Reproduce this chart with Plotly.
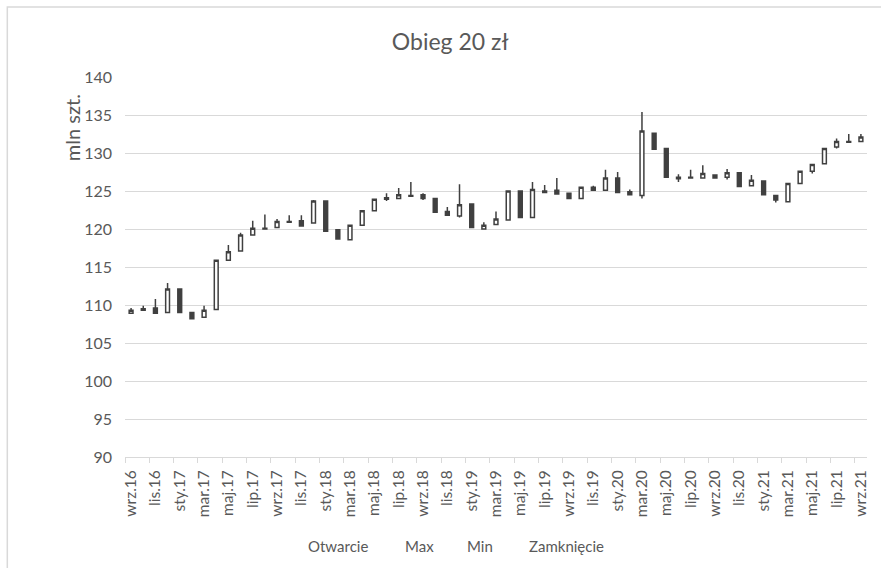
import plotly.graph_objects as go

months = ["wrz.16", "paź.16", "lis.16", "gru.16", "sty.17", "lut.17", "mar.17", "kwi.17", "maj.17", "cze.17",
          "lip.17", "sie.17", "wrz.17", "paź.17", "lis.17", "gru.17", "sty.18", "lut.18", "mar.18", "kwi.18",
          "maj.18", "cze.18", "lip.18", "sie.18", "wrz.18", "paź.18", "lis.18", "gru.18", "sty.19", "lut.19",
          "mar.19", "kwi.19", "maj.19", "cze.19", "lip.19", "sie.19", "wrz.19", "paź.19", "lis.19", "gru.19",
          "sty.20", "lut.20", "mar.20", "kwi.20", "maj.20", "cze.20", "lip.20", "sie.20", "wrz.20", "paź.20",
          "lis.20", "gru.20", "sty.21", "lut.21", "mar.21", "kwi.21", "maj.21", "cze.21", "lip.21", "sie.21",
          "wrz.21"]

open_ = [108.9, 109.5, 109.6, 109.0, 112.1, 109.0, 108.4, 109.4, 115.9, 117.1,
         119.2, 120.0, 120.2, 120.9, 121.1, 120.8, 123.7, 119.9, 118.6, 120.5,
         122.4, 123.9, 124.0, 124.4, 124.5, 124.0, 122.3, 121.7, 123.3, 120.0,
         120.6, 121.2, 125.0, 121.5, 125.0, 125.1, 124.7, 124.0, 125.5, 125.1,
         126.7, 124.9, 124.4, 132.6, 130.6, 126.8, 126.7, 126.7, 127.1, 126.8,
         127.4, 125.7, 126.3, 124.4, 123.6, 126.0, 127.6, 128.6, 130.8, 131.4,
         131.5]
high = [109.6, 109.9, 110.8, 112.9, 112.1, 109.0, 109.9, 115.9, 117.9, 119.5,
        121.1, 121.9, 121.3, 121.8, 121.8, 123.8, 123.7, 119.9, 120.5, 122.4,
        123.9, 124.7, 125.4, 126.2, 124.7, 124.0, 122.9, 125.9, 123.3, 120.9,
        122.3, 125.0, 125.0, 126.2, 125.8, 126.7, 124.7, 125.5, 125.7, 127.8,
        127.5, 125.2, 135.4, 132.6, 130.6, 127.2, 127.8, 128.4, 127.1, 127.9,
        127.4, 127.1, 126.4, 124.4, 126.0, 127.6, 128.6, 130.7, 131.9, 132.5,
        132.5]
low = [108.9, 109.2, 108.8, 109.0, 109.0, 108.1, 108.4, 109.4, 115.8, 117.1,
       119.1, 120.0, 120.1, 120.9, 120.4, 120.7, 119.6, 118.6, 118.5, 120.4,
       122.3, 123.7, 123.9, 124.2, 123.8, 122.1, 121.7, 121.5, 120.2, 120.0,
       120.5, 121.1, 121.5, 121.4, 124.8, 124.6, 123.9, 124.0, 125.0, 125.0,
       124.8, 124.4, 124.0, 130.5, 126.8, 126.2, 126.7, 126.7, 126.6, 126.5,
       125.6, 125.7, 124.5, 123.5, 123.6, 125.9, 127.3, 128.6, 130.6, 131.4,
       131.5]
close = [109.3, 109.3, 108.9, 112.1, 109.0, 108.2, 109.3, 115.9, 117.0, 119.2,
         120.1, 120.1, 121.0, 121.0, 120.4, 123.7, 119.7, 118.7, 120.5, 122.4,
         123.9, 124.1, 124.5, 124.3, 124.0, 122.2, 121.8, 123.2, 120.2, 120.5,
         121.3, 125.0, 121.5, 125.2, 124.8, 124.6, 124.0, 125.5, 125.1, 126.7,
         124.8, 124.5, 132.9, 130.5, 126.8, 126.6, 126.8, 127.3, 126.7, 127.4,
         125.6, 126.4, 124.5, 123.8, 126.0, 127.6, 128.5, 130.6, 131.5, 131.5,
         132.1]

legend_labels = ["Otwarcie", "Max", "Min", "Zamknięcie"]
title_text = "Obieg 20 zł"
y_title = "mln szt."

idx = list(range(len(months)))
label_idx = idx[::2]
label_text = months[::2]
tick_bounds = [i - 0.5 for i in label_idx]

TXT = "#595959"
GRID = "#d9d9d9"
CANDLE = "#404040"
FONT = "Lato"

fig = go.Figure()
fig.add_trace(go.Candlestick(
    x=idx, open=open_, high=high, low=low, close=close,
    increasing=dict(line=dict(color=CANDLE, width=1.5), fillcolor="white"),
    decreasing=dict(line=dict(color=CANDLE, width=1.5), fillcolor=CANDLE),
    whiskerwidth=0, showlegend=False, hoverinfo="skip",
))
fig.add_trace(go.Scatter(x=[0], y=[None], xaxis="x2", yaxis="y", showlegend=False, hoverinfo="skip"))

xr = [-0.5, len(months) - 0.5]

fig.update_layout(
    width=881, height=568,
    margin=dict(l=125, r=12, t=77, b=111),
    paper_bgcolor="white", plot_bgcolor="white",
    font=dict(family=FONT, color=TXT),
    boxgap=0.55,
    title=dict(text=title_text, x=0.511, xref="container", y=1 - 42 / 568, yref="container",
               xanchor="center", yanchor="middle", font=dict(size=23, color=TXT, family=FONT)),
    xaxis=dict(range=xr, rangeslider=dict(visible=False), tickmode="array", tickvals=label_idx,
               ticktext=label_text, tickangle=-90, ticks="", showgrid=False, zeroline=False,
               showline=True, linecolor=GRID, linewidth=1, tickfont=dict(size=15.5, color=TXT, family=FONT),
               ticklabelstandoff=6),
    xaxis2=dict(range=xr, overlaying="x", anchor="y", side="bottom", tickmode="array", tickvals=tick_bounds,
                showticklabels=False, ticks="outside", ticklen=5, tickcolor=GRID, tickwidth=1,
                showgrid=False, zeroline=False, showline=False),
    yaxis=dict(range=[90, 140], dtick=5, tick0=90, showgrid=True, gridcolor=GRID, gridwidth=1,
               zeroline=False, showline=False, ticks="", tickfont=dict(size=16, color=TXT, family=FONT),
               ticklabelstandoff=12),
)

# y-axis title (Excel places it near the top of the axis)
fig.add_annotation(text=y_title, xref="paper", yref="paper", x=(72 - 125) / 744, y=(457 - 128) / 380,
                   textangle=-90, showarrow=False, font=dict(size=20, color=TXT, family=FONT),
                   xanchor="center", yanchor="middle")

# legend text (Excel stock chart legend without markers)
legend_x = [339, 420, 481, 568]
for lbl, px in zip(legend_labels, legend_x):
    fig.add_annotation(text=lbl, xref="paper", yref="paper", x=(px - 125) / 744, y=(457 - 546) / 380,
                       showarrow=False, font=dict(size=15, color=TXT, family=FONT),
                       xanchor="center", yanchor="middle")

# chart area border
fig.add_shape(type="rect", xref="paper", yref="paper",
              x0=(7 - 125) / 744, x1=(900 - 125) / 744, y0=(457 - 600) / 380, y1=(457 - 7) / 380,
              line=dict(color=GRID, width=1.5), fillcolor="rgba(0,0,0,0)", layer="below")

fig.write_html("out.html", config={"displayModeBar": False},
               post_script="document.body.style.margin='0';document.body.style.overflow='hidden';")
